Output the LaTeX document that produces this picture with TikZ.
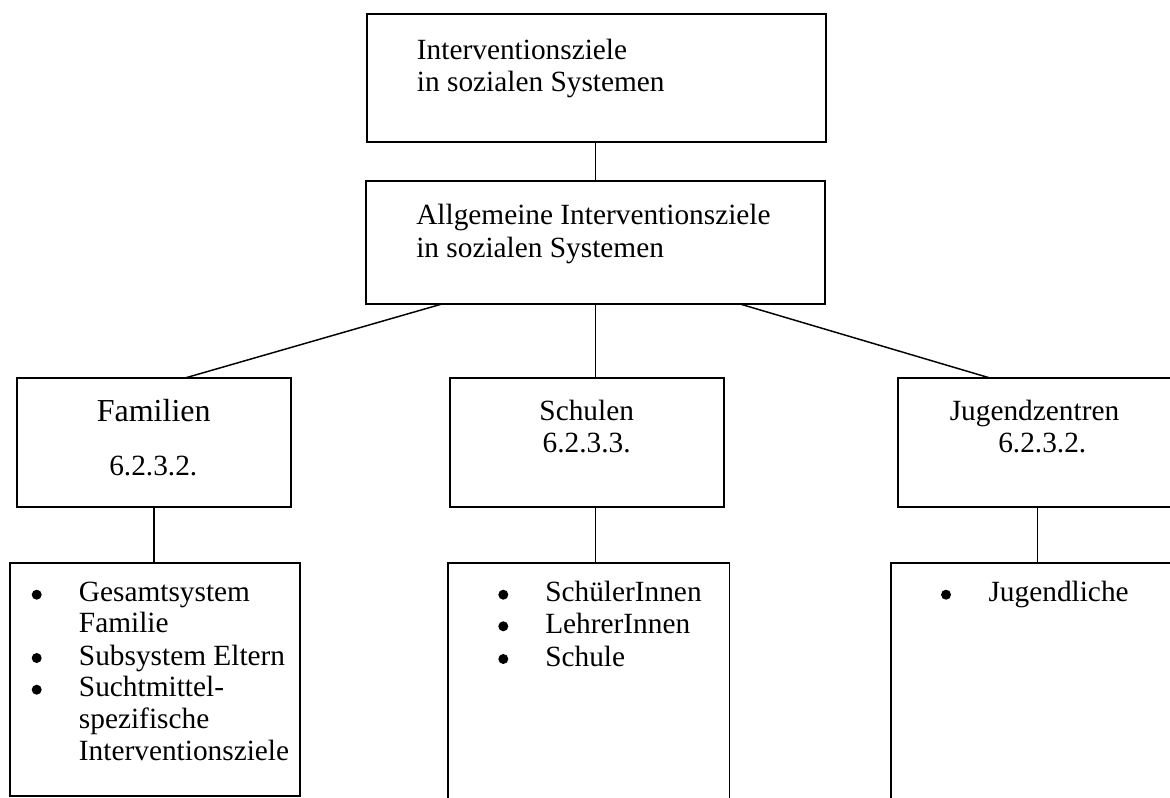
\documentclass[tikz,border=0pt]{standalone}
\usepackage{fontspec}
\setmainfont{Liberation Serif}
\usetikzlibrary{fit}

\begin{document}
\begin{tikzpicture}[x=0.75pt,y=-0.75pt,
  box/.style={draw=black, line width=1.2pt, inner sep=0pt, rectangle},
  link/.style={draw=black, line width=1.1pt},
  txt/.style={anchor=base west, inner sep=0pt, font=\fontsize{22}{24}\selectfont},
  ctxt/.style={anchor=base, inner sep=0pt, font=\fontsize{22}{24}\selectfont},
  big/.style={anchor=base, inner sep=0pt, font=\fontsize{24}{26}\selectfont},
  dot/.style={circle, fill=black, inner sep=0pt, minimum size=7.5pt}]

\clip (0,0) rectangle (1170,798);
\fill[white] (0,0) rectangle (1170,798);

% upper levels
\node[box, fit={(367,14) (826,142)}] (top) {};
\node[box, fit={(366,181) (825,304)}] (mid) {};

% second level: three areas
\node[box, fit={(16.7,378) (290.7,507)}] (fam) {};
\node[box, fit={(450,378) (724,507)}] (sch) {};
\node[box, fit={(898,378) (1176,507)}] (jug) {};

% third level: target groups
\node[box, fit={(10,563) (300,795.7)}] (famL) {};
\node[box, fit={(447.7,563) (729.3,840)}] (schL) {};
\node[box, fit={(891,563) (1190,840)}] (jugL) {};

% connectors
\coordinate (midL) at (442,304);
\coordinate (midR) at (740,304);
\coordinate (famT) at (185,378);
\coordinate (jugT) at (990,378);
\draw[link] (mid.north) -- (mid.north |- top.south);
\draw[link] (midL) -- (famT);
\draw[link] (mid.south) -- (mid.south |- sch.north);
\draw[link] (midR) -- (jugT);
\draw[link] (fam.south -| 154,0) -- (famL.north -| 154,0);
\draw[link] (sch.south -| mid.south) -- (schL.north -| mid.south);
\draw[link] (jug.south -| 1037.3,0) -- (jugL.north -| 1037.3,0);

% box texts
\node[txt] (t1a) at (416.7,60) {Interventionsziele};
\node[txt] (t1b) at (416.7,92) {in sozialen Systemen};
\node[txt] (t2a) at (416,225) {Allgemeine Interventionsziele};
\node[txt] (t2b) at (416,258) {in sozialen Systemen};

\node[big] (famA) at (153.7,421.7) {Familien};
\node[ctxt] (famB) at (153.3,475) {6.2.3.2.};
\node[ctxt] (schA) at (586.7,420.7) {Schulen};
\node[ctxt] (schB) at (586.7,452) {6.2.3.3.};
\node[ctxt] (jugA) at (1034.5,420.7) {Jugendzentren};
\node[ctxt] (jugB) at (1042.3,452) {6.2.3.2.};

% bullet lists
\node[dot] (fd1) at (36.7,594.7) {};
\node[txt] (fl1) at (78.7,601.7) {Gesamtsystem};
\node[txt] (fl2) at (78.7,632) {Familie};
\node[dot] (fd2) at (36.7,658) {};
\node[txt] (fl3) at (78.7,665) {Subsystem Eltern};
\node[dot] (fd3) at (36.7,689.7) {};
\node[txt] (fl4) at (78.7,696.7) {Suchtmittel-};
\node[txt] (fl5) at (78.7,728) {spezifische};
\node[txt] (fl6) at (78.7,760) {Interventionsziele};

\node[dot] (sd1) at (503.3,594.7) {};
\node[txt] (sl1) at (545,601.7) {SchülerInnen};
\node[dot] (sd2) at (503.3,626.3) {};
\node[txt] (sl2) at (545,633.3) {LehrerInnen};
\node[dot] (sd3) at (503.3,659) {};
\node[txt] (sl3) at (545,666) {Schule};

\node[dot] (jd1) at (946,594.7) {};
\node[txt] (jl1) at (988.3,601.7) {Jugendliche};
\end{tikzpicture}
\end{document}
